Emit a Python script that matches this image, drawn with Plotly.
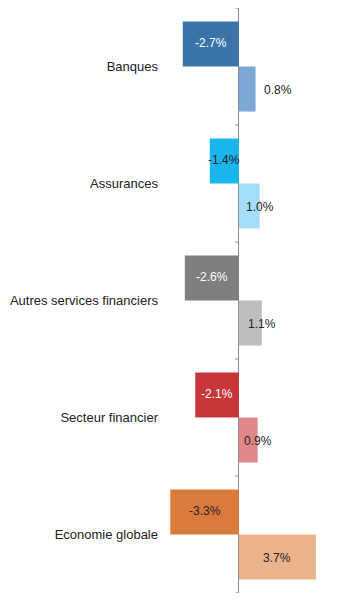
import plotly.graph_objects as go

# Categories and growth rates (%)
categories = ["Banques", "Assurances", "Autres services financiers",
              "Secteur financier", "Economie globale"]
period1 = [-2.7, -1.4, -2.6, -2.1, -3.3]
period2 = [0.8, 1.0, 1.1, 0.9, 3.7]

# Colours per category (dark = first period, light = second period)
dark_colors = ["#3A73A9", "#19B6EE", "#7F7F7F", "#C8363A", "#DB7A3D"]
light_colors = ["#7DA7D4", "#A3DEF9", "#BEBEBE", "#E0878A", "#EBB28C"]
dark_text = ["white", "#222222", "white", "white", "#222222"]

# Where each second-period label sits relative to its bar
label_mode2 = ["outside", "end", "end", "end", "middle"]

FONT = "Liberation Sans, Arial, sans-serif"

fig = go.Figure()
fig.add_trace(go.Bar(y=categories, x=period1, orientation="h",
                     marker=dict(color=dark_colors, line=dict(width=0)),
                     hoverinfo="skip"))
fig.add_trace(go.Bar(y=categories, x=period2, orientation="h",
                     marker=dict(color=light_colors, line=dict(width=0)),
                     hoverinfo="skip"))

annotations = []
for i, (cat, v) in enumerate(zip(categories, period1)):
    annotations.append(dict(
        x=v / 2, y=i - 0.2, xref="x", yref="y", text=f"{v:.1f}%",
        showarrow=False, xanchor="center", yanchor="middle",
        font=dict(family=FONT, size=12, color=dark_text[i])))
for i, (cat, v) in enumerate(zip(categories, period2)):
    mode = label_mode2[i]
    if mode == "outside":
        ax, anchor, shift = v, "left", 6
    elif mode == "end":
        ax, anchor, shift = v, "center", 0
    else:
        ax, anchor, shift = v / 2, "center", 0
    annotations.append(dict(
        x=ax, y=i + 0.2, xref="x", yref="y", text=f"{v:.1f}%",
        showarrow=False, xanchor=anchor, yanchor="middle", xshift=shift,
        font=dict(family=FONT, size=12, color="#222222")))

# Short tick marks on the zero line at every category boundary
shapes = []
for k in range(len(categories) + 1):
    shapes.append(dict(type="line", xref="x", yref="y",
                       xsizemode="pixel", xanchor=0, x0=-4, x1=0,
                       y0=k - 0.5, y1=k - 0.5,
                       line=dict(color="#8C8C8C", width=1)))

fig.update_layout(
    width=347, height=610,
    margin=dict(l=163, r=17, t=8, b=17),
    paper_bgcolor="white", plot_bgcolor="white",
    barmode="group", bargap=0.23, bargroupgap=0,
    showlegend=False,
    annotations=annotations, shapes=shapes,
    font=dict(family=FONT, size=12, color="#222222"),
)
fig.update_xaxes(range=[-3.65, 4.38], showgrid=False, showticklabels=False,
                 zeroline=True, zerolinecolor="#8C8C8C", zerolinewidth=1,
                 showline=False, ticks="")
fig.update_yaxes(range=[4.5, -0.5], showgrid=False, zeroline=False,
                 showline=False, ticks="", ticklabelstandoff=4,
                 tickfont=dict(family=FONT, size=13, color="#222222"))

fig.write_html("out.html")
